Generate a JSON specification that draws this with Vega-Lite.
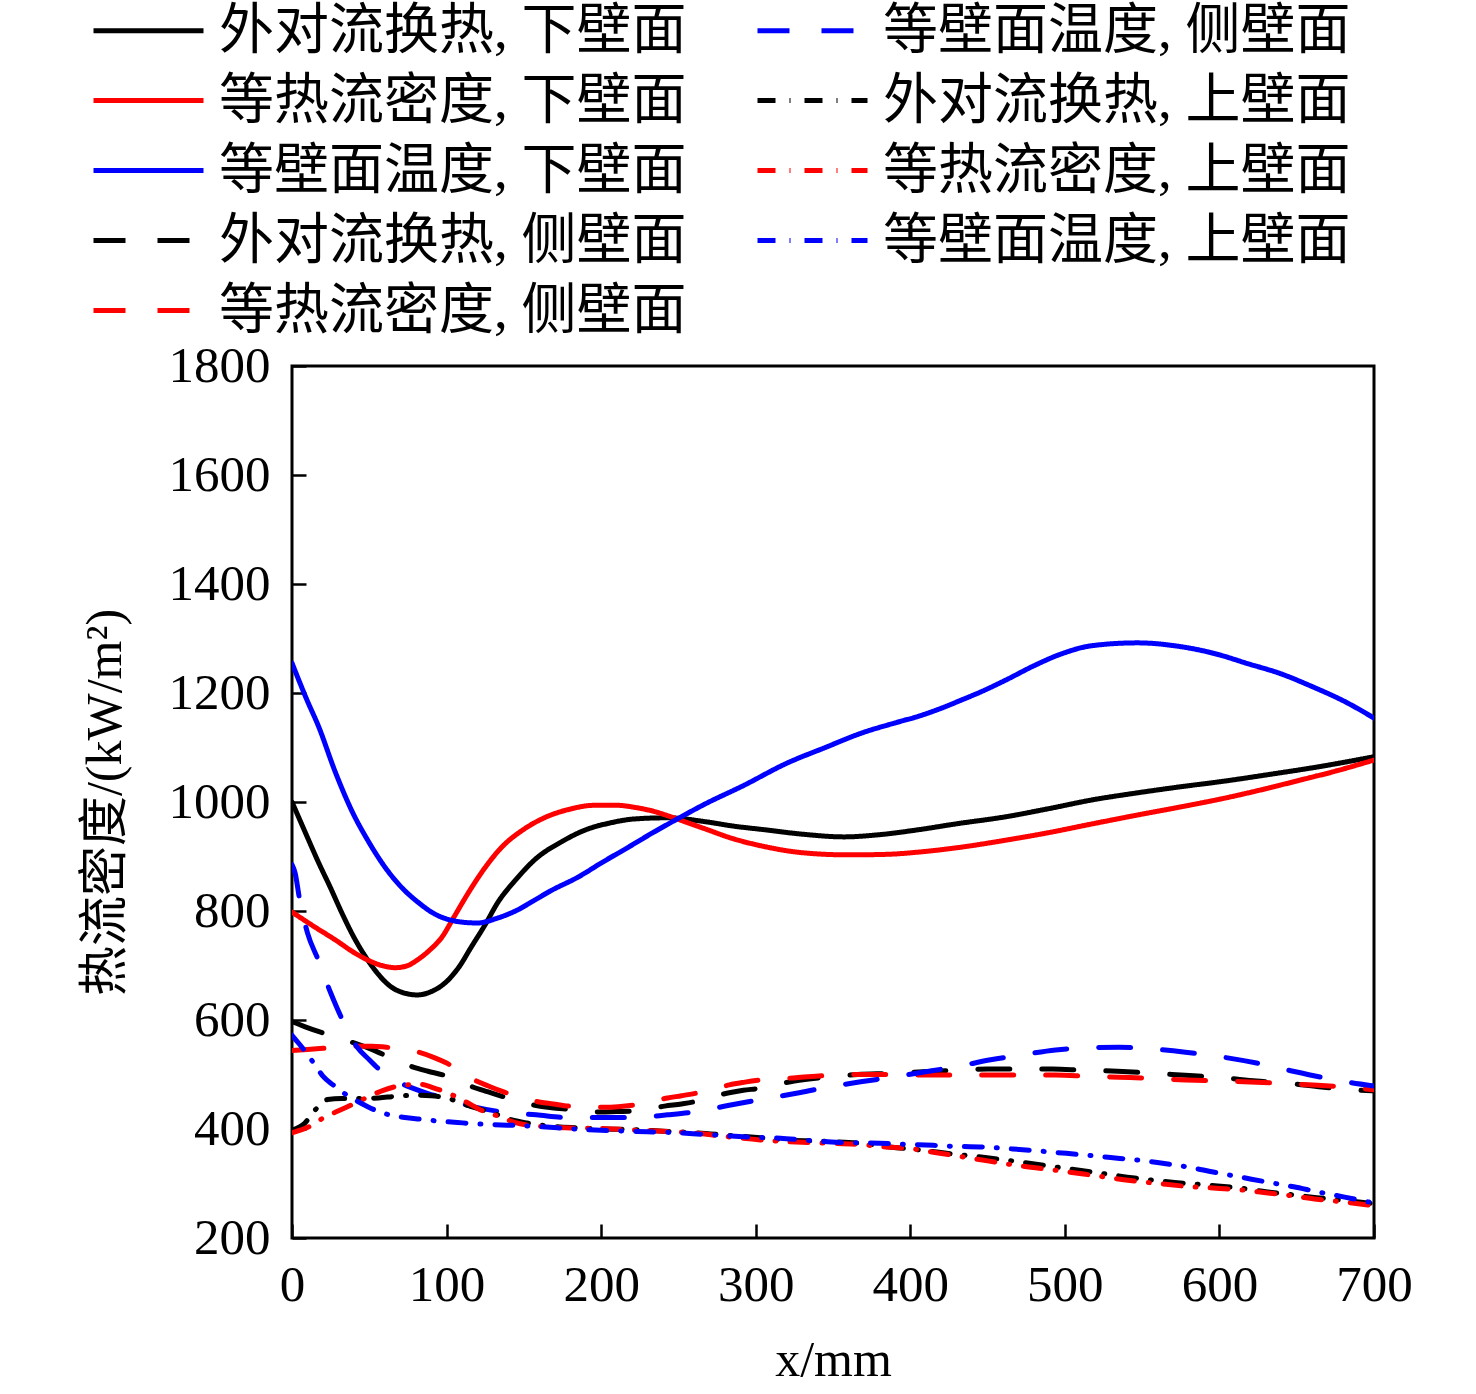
{
  "$schema": "https://vega.github.io/schema/vega-lite/v6.json",
  "width": 1082,
  "height": 872,
  "autosize": {"type": "none"},
  "padding": {"left": 292, "top": 366, "right": 102, "bottom": 156},
  "background": "white",
  "config": {
    "view": {"stroke": "black", "strokeWidth": 3},
    "font": "Liberation Serif, Noto Sans CJK SC",
    "axis": {
      "labelFont": "Liberation Serif, Noto Sans CJK SC",
      "titleFont": "Liberation Serif, Noto Sans CJK SC",
      "labelColor": "black",
      "titleColor": "black",
      "labelFontSize": 51,
      "titleFontSize": 50,
      "titleFontWeight": "normal",
      "domain": false,
      "grid": false,
      "tickColor": "black",
      "tickWidth": 2.5,
      "tickSize": -14,
      "labelPadding": 36,
      "format": "d"
    },
    "legend": {
      "labelFont": "Liberation Serif, Noto Sans CJK SC",
      "labelFontSize": 55,
      "labelColor": "black",
      "labelLimit": 800
    }
  },
  "data": {
    "values": [
      {"s":"外对流换热, 下壁面","x":0,"y":1000},{"s":"外对流换热, 下壁面","x":10,"y":935},{"s":"外对流换热, 下壁面","x":17,"y":890},{"s":"外对流换热, 下壁面","x":25,"y":842},{"s":"外对流换热, 下壁面","x":32,"y":798},{"s":"外对流换热, 下壁面","x":40,"y":752},{"s":"外对流换热, 下壁面","x":49,"y":710},{"s":"外对流换热, 下壁面","x":57,"y":680},{"s":"外对流换热, 下壁面","x":64,"y":661},{"s":"外对流换热, 下壁面","x":72,"y":650},{"s":"外对流换热, 下壁面","x":81,"y":646},{"s":"外对流换热, 下壁面","x":90,"y":652},{"s":"外对流换热, 下壁面","x":99,"y":668},{"s":"外对流换热, 下壁面","x":108,"y":697},{"s":"外对流换热, 下壁面","x":116,"y":734},{"s":"外对流换热, 下壁面","x":125,"y":775},{"s":"外对流换热, 下壁面","x":133,"y":815},{"s":"外对流换热, 下壁面","x":145,"y":858},{"s":"外对流换热, 下壁面","x":157,"y":894},{"s":"外对流换热, 下壁面","x":175,"y":928},{"s":"外对流换热, 下壁面","x":190,"y":949},{"s":"外对流换热, 下壁面","x":205,"y":961},{"s":"外对流换热, 下壁面","x":222,"y":969},{"s":"外对流换热, 下壁面","x":243,"y":971},{"s":"外对流换热, 下壁面","x":267,"y":964},{"s":"外对流换热, 下壁面","x":285,"y":956},{"s":"外对流换热, 下壁面","x":306,"y":949},{"s":"外对流换热, 下壁面","x":330,"y":941},{"s":"外对流换热, 下壁面","x":357,"y":936},{"s":"外对流换热, 下壁面","x":380,"y":940},{"s":"外对流换热, 下壁面","x":405,"y":949},{"s":"外对流换热, 下壁面","x":430,"y":960},{"s":"外对流换热, 下壁面","x":462,"y":973},{"s":"外对流换热, 下壁面","x":490,"y":988},{"s":"外对流换热, 下壁面","x":518,"y":1004},{"s":"外对流换热, 下壁面","x":545,"y":1016},{"s":"外对流换热, 下壁面","x":575,"y":1028},{"s":"外对流换热, 下壁面","x":605,"y":1039},{"s":"外对流换热, 下壁面","x":631,"y":1050},{"s":"外对流换热, 下壁面","x":665,"y":1065},{"s":"外对流换热, 下壁面","x":700,"y":1083},

      {"s":"等热流密度, 下壁面","x":0,"y":798},{"s":"等热流密度, 下壁面","x":14,"y":772},{"s":"等热流密度, 下壁面","x":28,"y":747},{"s":"等热流密度, 下壁面","x":40,"y":724},{"s":"等热流密度, 下壁面","x":49,"y":710},{"s":"等热流密度, 下壁面","x":58,"y":700},{"s":"等热流密度, 下壁面","x":67,"y":696},{"s":"等热流密度, 下壁面","x":75,"y":700},{"s":"等热流密度, 下壁面","x":81,"y":710},{"s":"等热流密度, 下壁面","x":89,"y":728},{"s":"等热流密度, 下壁面","x":97,"y":752},{"s":"等热流密度, 下壁面","x":105,"y":790},{"s":"等热流密度, 下壁面","x":114,"y":833},{"s":"等热流密度, 下壁面","x":125,"y":880},{"s":"等热流密度, 下壁面","x":136,"y":918},{"s":"等热流密度, 下壁面","x":150,"y":950},{"s":"等热流密度, 下壁面","x":164,"y":972},{"s":"等热流密度, 下壁面","x":180,"y":987},{"s":"等热流密度, 下壁面","x":196,"y":994},{"s":"等热流密度, 下壁面","x":210,"y":994},{"s":"等热流密度, 下壁面","x":222,"y":990},{"s":"等热流密度, 下壁面","x":235,"y":982},{"s":"等热流密度, 下壁面","x":246,"y":972},{"s":"等热流密度, 下壁面","x":257,"y":961},{"s":"等热流密度, 下壁面","x":267,"y":951},{"s":"等热流密度, 下壁面","x":285,"y":933},{"s":"等热流密度, 下壁面","x":306,"y":918},{"s":"等热流密度, 下壁面","x":330,"y":907},{"s":"等热流密度, 下壁面","x":360,"y":903},{"s":"等热流密度, 下壁面","x":385,"y":904},{"s":"等热流密度, 下壁面","x":405,"y":908},{"s":"等热流密度, 下壁面","x":430,"y":916},{"s":"等热流密度, 下壁面","x":462,"y":930},{"s":"等热流密度, 下壁面","x":490,"y":944},{"s":"等热流密度, 下壁面","x":518,"y":960},{"s":"等热流密度, 下壁面","x":545,"y":975},{"s":"等热流密度, 下壁面","x":575,"y":991},{"s":"等热流密度, 下壁面","x":605,"y":1008},{"s":"等热流密度, 下壁面","x":631,"y":1025},{"s":"等热流密度, 下壁面","x":652,"y":1040},{"s":"等热流密度, 下壁面","x":673,"y":1055},{"s":"等热流密度, 下壁面","x":700,"y":1077},

      {"s":"等壁面温度, 下壁面","x":0,"y":1255},{"s":"等壁面温度, 下壁面","x":10,"y":1185},{"s":"等壁面温度, 下壁面","x":17,"y":1140},{"s":"等壁面温度, 下壁面","x":28,"y":1055},{"s":"等壁面温度, 下壁面","x":39,"y":982},{"s":"等壁面温度, 下壁面","x":50,"y":925},{"s":"等壁面温度, 下壁面","x":60,"y":881},{"s":"等壁面温度, 下壁面","x":70,"y":846},{"s":"等壁面温度, 下壁面","x":82,"y":815},{"s":"等壁面温度, 下壁面","x":92,"y":795},{"s":"等壁面温度, 下壁面","x":103,"y":783},{"s":"等壁面温度, 下壁面","x":112,"y":779},{"s":"等壁面温度, 下壁面","x":120,"y":778},{"s":"等壁面温度, 下壁面","x":133,"y":787},{"s":"等壁面温度, 下壁面","x":146,"y":802},{"s":"等壁面温度, 下壁面","x":157,"y":820},{"s":"等壁面温度, 下壁面","x":168,"y":838},{"s":"等壁面温度, 下壁面","x":185,"y":862},{"s":"等壁面温度, 下壁面","x":200,"y":888},{"s":"等壁面温度, 下壁面","x":217,"y":916},{"s":"等壁面温度, 下壁面","x":233,"y":943},{"s":"等壁面温度, 下壁面","x":250,"y":970},{"s":"等壁面温度, 下壁面","x":267,"y":996},{"s":"等壁面温度, 下壁面","x":292,"y":1030},{"s":"等壁面温度, 下壁面","x":320,"y":1071},{"s":"等壁面温度, 下壁面","x":345,"y":1100},{"s":"等壁面温度, 下壁面","x":369,"y":1127},{"s":"等壁面温度, 下壁面","x":390,"y":1145},{"s":"等壁面温度, 下壁面","x":405,"y":1157},{"s":"等壁面温度, 下壁面","x":420,"y":1172},{"s":"等壁面温度, 下壁面","x":433,"y":1187},{"s":"等壁面温度, 下壁面","x":448,"y":1205},{"s":"等壁面温度, 下壁面","x":462,"y":1224},{"s":"等壁面温度, 下壁面","x":480,"y":1250},{"s":"等壁面温度, 下壁面","x":498,"y":1272},{"s":"等壁面温度, 下壁面","x":518,"y":1287},{"s":"等壁面温度, 下壁面","x":547,"y":1292},{"s":"等壁面温度, 下壁面","x":575,"y":1285},{"s":"等壁面温度, 下壁面","x":600,"y":1270},{"s":"等壁面温度, 下壁面","x":617,"y":1255},{"s":"等壁面温度, 下壁面","x":640,"y":1235},{"s":"等壁面温度, 下壁面","x":659,"y":1213},{"s":"等壁面温度, 下壁面","x":682,"y":1183},{"s":"等壁面温度, 下壁面","x":700,"y":1154},

      {"s":"外对流换热, 侧壁面","x":0,"y":597},{"s":"外对流换热, 侧壁面","x":9,"y":587},{"s":"外对流换热, 侧壁面","x":18,"y":578},{"s":"外对流换热, 侧壁面","x":30,"y":567},{"s":"外对流换热, 侧壁面","x":40,"y":558},{"s":"外对流换热, 侧壁面","x":50,"y":548},{"s":"外对流换热, 侧壁面","x":58,"y":538},{"s":"外对流换热, 侧壁面","x":68,"y":526},{"s":"外对流换热, 侧壁面","x":78,"y":514},{"s":"外对流换热, 侧壁面","x":88,"y":506},{"s":"外对流换热, 侧壁面","x":98,"y":499},{"s":"外对流换热, 侧壁面","x":108,"y":488},{"s":"外对流换热, 侧壁面","x":117,"y":477},{"s":"外对流换热, 侧壁面","x":127,"y":468},{"s":"外对流换热, 侧壁面","x":137,"y":459},{"s":"外对流换热, 侧壁面","x":148,"y":450},{"s":"外对流换热, 侧壁面","x":158,"y":443},{"s":"外对流换热, 侧壁面","x":168,"y":439},{"s":"外对流换热, 侧壁面","x":179,"y":436},{"s":"外对流换热, 侧壁面","x":190,"y":433},{"s":"外对流换热, 侧壁面","x":200,"y":431},{"s":"外对流换热, 侧壁面","x":210,"y":432},{"s":"外对流换热, 侧壁面","x":221,"y":433},{"s":"外对流换热, 侧壁面","x":231,"y":437},{"s":"外对流换热, 侧壁面","x":241,"y":442},{"s":"外对流换热, 侧壁面","x":252,"y":446},{"s":"外对流换热, 侧壁面","x":262,"y":451},{"s":"外对流换热, 侧壁面","x":272,"y":459},{"s":"外对流换热, 侧壁面","x":282,"y":466},{"s":"外对流换热, 侧壁面","x":292,"y":471},{"s":"外对流换热, 侧壁面","x":303,"y":475},{"s":"外对流换热, 侧壁面","x":314,"y":482},{"s":"外对流换热, 侧壁面","x":325,"y":488},{"s":"外对流换热, 侧壁面","x":345,"y":495},{"s":"外对流换热, 侧壁面","x":366,"y":500},{"s":"外对流换热, 侧壁面","x":387,"y":502},{"s":"外对流换热, 侧壁面","x":408,"y":505},{"s":"外对流换热, 侧壁面","x":431,"y":508},{"s":"外对流换热, 侧壁面","x":450,"y":510},{"s":"外对流换热, 侧壁面","x":470,"y":510},{"s":"外对流换热, 侧壁面","x":492,"y":510},{"s":"外对流换热, 侧壁面","x":511,"y":508},{"s":"外对流换热, 侧壁面","x":534,"y":506},{"s":"外对流换热, 侧壁面","x":553,"y":503},{"s":"外对流换热, 侧壁面","x":575,"y":499},{"s":"外对流换热, 侧壁面","x":602,"y":494},{"s":"外对流换热, 侧壁面","x":624,"y":488},{"s":"外对流换热, 侧壁面","x":644,"y":484},{"s":"外对流换热, 侧壁面","x":666,"y":477},{"s":"外对流换热, 侧壁面","x":685,"y":472},{"s":"外对流换热, 侧壁面","x":700,"y":470},

      {"s":"等热流密度, 侧壁面","x":0,"y":544},{"s":"等热流密度, 侧壁面","x":10,"y":546},{"s":"等热流密度, 侧壁面","x":20,"y":548},{"s":"等热流密度, 侧壁面","x":30,"y":550},{"s":"等热流密度, 侧壁面","x":42,"y":552},{"s":"等热流密度, 侧壁面","x":52,"y":552},{"s":"等热流密度, 侧壁面","x":61,"y":550},{"s":"等热流密度, 侧壁面","x":72,"y":547},{"s":"等热流密度, 侧壁面","x":83,"y":540},{"s":"等热流密度, 侧壁面","x":92,"y":531},{"s":"等热流密度, 侧壁面","x":100,"y":521},{"s":"等热流密度, 侧壁面","x":109,"y":506},{"s":"等热流密度, 侧壁面","x":118,"y":490},{"s":"等热流密度, 侧壁面","x":127,"y":479},{"s":"等热流密度, 侧壁面","x":137,"y":468},{"s":"等热流密度, 侧壁面","x":148,"y":458},{"s":"等热流密度, 侧壁面","x":159,"y":450},{"s":"等热流密度, 侧壁面","x":169,"y":446},{"s":"等热流密度, 侧壁面","x":179,"y":442},{"s":"等热流密度, 侧壁面","x":190,"y":441},{"s":"等热流密度, 侧壁面","x":201,"y":440},{"s":"等热流密度, 侧壁面","x":211,"y":441},{"s":"等热流密度, 侧壁面","x":221,"y":444},{"s":"等热流密度, 侧壁面","x":232,"y":450},{"s":"等热流密度, 侧壁面","x":243,"y":457},{"s":"等热流密度, 侧壁面","x":252,"y":461},{"s":"等热流密度, 侧壁面","x":262,"y":466},{"s":"等热流密度, 侧壁面","x":273,"y":473},{"s":"等热流密度, 侧壁面","x":283,"y":481},{"s":"等热流密度, 侧壁面","x":293,"y":486},{"s":"等热流密度, 侧壁面","x":303,"y":490},{"s":"等热流密度, 侧壁面","x":326,"y":494},{"s":"等热流密度, 侧壁面","x":345,"y":498},{"s":"等热流密度, 侧壁面","x":366,"y":500},{"s":"等热流密度, 侧壁面","x":387,"y":500},{"s":"等热流密度, 侧壁面","x":410,"y":499},{"s":"等热流密度, 侧壁面","x":430,"y":499},{"s":"等热流密度, 侧壁面","x":452,"y":499},{"s":"等热流密度, 侧壁面","x":472,"y":499},{"s":"等热流密度, 侧壁面","x":494,"y":499},{"s":"等热流密度, 侧壁面","x":514,"y":497},{"s":"等热流密度, 侧壁面","x":535,"y":495},{"s":"等热流密度, 侧壁面","x":556,"y":493},{"s":"等热流密度, 侧壁面","x":578,"y":490},{"s":"等热流密度, 侧壁面","x":602,"y":488},{"s":"等热流密度, 侧壁面","x":624,"y":486},{"s":"等热流密度, 侧壁面","x":644,"y":483},{"s":"等热流密度, 侧壁面","x":666,"y":480},{"s":"等热流密度, 侧壁面","x":685,"y":476},{"s":"等热流密度, 侧壁面","x":700,"y":472},

      {"s":"等壁面温度, 侧壁面","x":0,"y":885},{"s":"等壁面温度, 侧壁面","x":2,"y":870},{"s":"等壁面温度, 侧壁面","x":5,"y":820},{"s":"等壁面温度, 侧壁面","x":10,"y":760},{"s":"等壁面温度, 侧壁面","x":17,"y":710},{"s":"等壁面温度, 侧壁面","x":25,"y":650},{"s":"等壁面温度, 侧壁面","x":32,"y":604},{"s":"等壁面温度, 侧壁面","x":42,"y":551},{"s":"等壁面温度, 侧壁面","x":50,"y":527},{"s":"等壁面温度, 侧壁面","x":57,"y":508},{"s":"等壁面温度, 侧壁面","x":67,"y":489},{"s":"等壁面温度, 侧壁面","x":78,"y":475},{"s":"等壁面温度, 侧壁面","x":88,"y":465},{"s":"等壁面温度, 侧壁面","x":98,"y":457},{"s":"等壁面温度, 侧壁面","x":117,"y":441},{"s":"等壁面温度, 侧壁面","x":137,"y":431},{"s":"等壁面温度, 侧壁面","x":158,"y":426},{"s":"等壁面温度, 侧壁面","x":179,"y":421},{"s":"等壁面温度, 侧壁面","x":200,"y":421},{"s":"等壁面温度, 侧壁面","x":221,"y":421},{"s":"等壁面温度, 侧壁面","x":243,"y":426},{"s":"等壁面温度, 侧壁面","x":262,"y":432},{"s":"等壁面温度, 侧壁面","x":282,"y":443},{"s":"等壁面温度, 侧壁面","x":303,"y":454},{"s":"等壁面温度, 侧壁面","x":329,"y":467},{"s":"等壁面温度, 侧壁面","x":347,"y":477},{"s":"等壁面温度, 侧壁面","x":369,"y":487},{"s":"等壁面温度, 侧壁面","x":388,"y":495},{"s":"等壁面温度, 侧壁面","x":410,"y":505},{"s":"等壁面温度, 侧壁面","x":431,"y":515},{"s":"等壁面温度, 侧壁面","x":452,"y":527},{"s":"等壁面温度, 侧壁面","x":472,"y":536},{"s":"等壁面温度, 侧壁面","x":494,"y":545},{"s":"等壁面温度, 侧壁面","x":514,"y":549},{"s":"等壁面温度, 侧壁面","x":535,"y":550},{"s":"等壁面温度, 侧壁面","x":556,"y":547},{"s":"等壁面温度, 侧壁面","x":578,"y":541},{"s":"等壁面温度, 侧壁面","x":602,"y":532},{"s":"等壁面温度, 侧壁面","x":624,"y":521},{"s":"等壁面温度, 侧壁面","x":643,"y":509},{"s":"等壁面温度, 侧壁面","x":666,"y":495},{"s":"等壁面温度, 侧壁面","x":685,"y":485},{"s":"等壁面温度, 侧壁面","x":700,"y":479},

      {"s":"外对流换热, 上壁面","x":0,"y":398},{"s":"外对流换热, 上壁面","x":8,"y":410},{"s":"外对流换热, 上壁面","x":15,"y":435},{"s":"外对流换热, 上壁面","x":23,"y":454},{"s":"外对流换热, 上壁面","x":32,"y":456},{"s":"外对流换热, 上壁面","x":47,"y":456},{"s":"外对流换热, 上壁面","x":56,"y":457},{"s":"外对流换热, 上壁面","x":67,"y":460},{"s":"外对流换热, 上壁面","x":81,"y":462},{"s":"外对流换热, 上壁面","x":90,"y":461},{"s":"外对流换热, 上壁面","x":100,"y":457},{"s":"外对流换热, 上壁面","x":113,"y":444},{"s":"外对流换热, 上壁面","x":130,"y":429},{"s":"外对流换热, 上壁面","x":143,"y":416},{"s":"外对流换热, 上壁面","x":152,"y":411},{"s":"外对流换热, 上壁面","x":168,"y":405},{"s":"外对流换热, 上壁面","x":185,"y":402},{"s":"外对流换热, 上壁面","x":200,"y":400},{"s":"外对流换热, 上壁面","x":221,"y":399},{"s":"外对流换热, 上壁面","x":240,"y":396},{"s":"外对流换热, 上壁面","x":262,"y":393},{"s":"外对流换热, 上壁面","x":284,"y":388},{"s":"外对流换热, 上壁面","x":303,"y":384},{"s":"外对流换热, 上壁面","x":320,"y":380},{"s":"外对流换热, 上壁面","x":347,"y":377},{"s":"外对流换热, 上壁面","x":370,"y":373},{"s":"外对流换热, 上壁面","x":387,"y":367},{"s":"外对流换热, 上壁面","x":408,"y":361},{"s":"外对流换热, 上壁面","x":428,"y":354},{"s":"外对流换热, 上壁面","x":451,"y":347},{"s":"外对流换热, 上壁面","x":472,"y":339},{"s":"外对流换热, 上壁面","x":495,"y":330},{"s":"外对流换热, 上壁面","x":518,"y":321},{"s":"外对流换热, 上壁面","x":545,"y":310},{"s":"外对流换热, 上壁面","x":571,"y":302},{"s":"外对流换热, 上壁面","x":597,"y":296},{"s":"外对流换热, 上壁面","x":615,"y":291},{"s":"外对流换热, 上壁面","x":630,"y":285},{"s":"外对流换热, 上壁面","x":648,"y":279},{"s":"外对流换热, 上壁面","x":663,"y":274},{"s":"外对流换热, 上壁面","x":681,"y":269},{"s":"外对流换热, 上壁面","x":700,"y":263},

      {"s":"等热流密度, 上壁面","x":0,"y":393},{"s":"等热流密度, 上壁面","x":13,"y":407},{"s":"等热流密度, 上壁面","x":20,"y":420},{"s":"等热流密度, 上壁面","x":29,"y":432},{"s":"等热流密度, 上壁面","x":42,"y":449},{"s":"等热流密度, 上壁面","x":50,"y":460},{"s":"等热流密度, 上壁面","x":59,"y":471},{"s":"等热流密度, 上壁面","x":74,"y":481},{"s":"等热流密度, 上壁面","x":83,"y":482},{"s":"等热流密度, 上壁面","x":91,"y":476},{"s":"等热流密度, 上壁面","x":104,"y":462},{"s":"等热流密度, 上壁面","x":113,"y":449},{"s":"等热流密度, 上壁面","x":122,"y":435},{"s":"等热流密度, 上壁面","x":135,"y":422},{"s":"等热流密度, 上壁面","x":144,"y":412},{"s":"等热流密度, 上壁面","x":160,"y":405},{"s":"等热流密度, 上壁面","x":180,"y":402},{"s":"等热流密度, 上壁面","x":200,"y":401},{"s":"等热流密度, 上壁面","x":221,"y":398},{"s":"等热流密度, 上壁面","x":240,"y":396},{"s":"等热流密度, 上壁面","x":262,"y":392},{"s":"等热流密度, 上壁面","x":284,"y":385},{"s":"等热流密度, 上壁面","x":303,"y":380},{"s":"等热流密度, 上壁面","x":326,"y":376},{"s":"等热流密度, 上壁面","x":345,"y":374},{"s":"等热流密度, 上壁面","x":365,"y":372},{"s":"等热流密度, 上壁面","x":384,"y":367},{"s":"等热流密度, 上壁面","x":400,"y":364},{"s":"等热流密度, 上壁面","x":418,"y":356},{"s":"等热流密度, 上壁面","x":438,"y":347},{"s":"等热流密度, 上壁面","x":451,"y":341},{"s":"等热流密度, 上壁面","x":472,"y":332},{"s":"等热流密度, 上壁面","x":495,"y":324},{"s":"等热流密度, 上壁面","x":518,"y":315},{"s":"等热流密度, 上壁面","x":538,"y":307},{"s":"等热流密度, 上壁面","x":560,"y":300},{"s":"等热流密度, 上壁面","x":582,"y":294},{"s":"等热流密度, 上壁面","x":600,"y":291},{"s":"等热流密度, 上壁面","x":615,"y":288},{"s":"等热流密度, 上壁面","x":630,"y":283},{"s":"等热流密度, 上壁面","x":648,"y":277},{"s":"等热流密度, 上壁面","x":663,"y":271},{"s":"等热流密度, 上壁面","x":681,"y":266},{"s":"等热流密度, 上壁面","x":700,"y":259},

      {"s":"等壁面温度, 上壁面","x":0,"y":572},{"s":"等壁面温度, 上壁面","x":5,"y":555},{"s":"等壁面温度, 上壁面","x":10,"y":537},{"s":"等壁面温度, 上壁面","x":15,"y":517},{"s":"等壁面温度, 上壁面","x":20,"y":497},{"s":"等壁面温度, 上壁面","x":27,"y":480},{"s":"等壁面温度, 上壁面","x":33,"y":467},{"s":"等壁面温度, 上壁面","x":41,"y":453},{"s":"等壁面温度, 上壁面","x":49,"y":441},{"s":"等壁面温度, 上壁面","x":56,"y":432},{"s":"等壁面温度, 上壁面","x":63,"y":426},{"s":"等壁面温度, 上壁面","x":73,"y":421},{"s":"等壁面温度, 上壁面","x":83,"y":418},{"s":"等壁面温度, 上壁面","x":97,"y":414},{"s":"等壁面温度, 上壁面","x":107,"y":412},{"s":"等壁面温度, 上壁面","x":116,"y":410},{"s":"等壁面温度, 上壁面","x":130,"y":408},{"s":"等壁面温度, 上壁面","x":150,"y":406},{"s":"等壁面温度, 上壁面","x":162,"y":404},{"s":"等壁面温度, 上壁面","x":183,"y":400},{"s":"等壁面温度, 上壁面","x":196,"y":398},{"s":"等壁面温度, 上壁面","x":217,"y":396},{"s":"等壁面温度, 上壁面","x":230,"y":395},{"s":"等壁面温度, 上壁面","x":250,"y":393},{"s":"等壁面温度, 上壁面","x":262,"y":391},{"s":"等壁面温度, 上壁面","x":284,"y":387},{"s":"等壁面温度, 上壁面","x":296,"y":385},{"s":"等壁面温度, 上壁面","x":316,"y":383},{"s":"等壁面温度, 上壁面","x":330,"y":380},{"s":"等壁面温度, 上壁面","x":349,"y":376},{"s":"等壁面温度, 上壁面","x":363,"y":375},{"s":"等壁面温度, 上壁面","x":380,"y":374},{"s":"等壁面温度, 上壁面","x":396,"y":372},{"s":"等壁面温度, 上壁面","x":415,"y":370},{"s":"等壁面温度, 上壁面","x":430,"y":368},{"s":"等壁面温度, 上壁面","x":448,"y":367},{"s":"等壁面温度, 上壁面","x":463,"y":364},{"s":"等壁面温度, 上壁面","x":482,"y":360},{"s":"等壁面温度, 上壁面","x":494,"y":357},{"s":"等壁面温度, 上壁面","x":514,"y":352},{"s":"等壁面温度, 上壁面","x":528,"y":348},{"s":"等壁面温度, 上壁面","x":547,"y":343},{"s":"等壁面温度, 上壁面","x":561,"y":338},{"s":"等壁面温度, 上壁面","x":580,"y":330},{"s":"等壁面温度, 上壁面","x":596,"y":321},{"s":"等壁面温度, 上壁面","x":615,"y":311},{"s":"等壁面温度, 上壁面","x":630,"y":303},{"s":"等壁面温度, 上壁面","x":648,"y":294},{"s":"等壁面温度, 上壁面","x":663,"y":285},{"s":"等壁面温度, 上壁面","x":681,"y":275},{"s":"等壁面温度, 上壁面","x":700,"y":264}
    ]
  },
  "mark": {"type": "line", "interpolate": "monotone", "strokeWidth": 5, "strokeCap": "round", "clip": true},
  "encoding": {
    "x": {
      "field": "x", "type": "quantitative",
      "scale": {"domain": [0, 700], "nice": false},
      "axis": {"values": [0,100,200,300,400,500,600,700], "title": "x/mm", "titlePadding": 0, "titleY": 122, "titleBaseline": "middle", "labelFlush": false}
    },
    "y": {
      "field": "y", "type": "quantitative",
      "scale": {"domain": [200, 1800], "nice": false, "zero": false},
      "axis": {"values": [200,400,600,800,1000,1200,1400,1600,1800], "title": "热流密度/(kW/m²)", "titleX": -187, "titleY": 436, "titleAlign": "center", "titleBaseline": "middle", "labelFlush": false}
    },
    "color": {
      "field": "s", "type": "nominal",
      "scale": {
        "domain": ["外对流换热, 下壁面","等热流密度, 下壁面","等壁面温度, 下壁面","外对流换热, 侧壁面","等热流密度, 侧壁面","等壁面温度, 侧壁面","外对流换热, 上壁面","等热流密度, 上壁面","等壁面温度, 上壁面"],
        "range": ["#000000","#ff0000","#0000ff","#000000","#ff0000","#0000ff","#000000","#ff0000","#0000ff"]
      },
      "legend": {
        "title": null,
        "orient": "none",
        "legendX": -171,
        "legendY": -363,
        "columns": 2,
        "columnPadding": 60,
        "rowPadding": 14,
        "padding": 0,
        "symbolType": "M-2.5,0H2.5",
        "symbolSize": 1936,
        "symbolStrokeWidth": 5,
        "labelOffset": 43
      }
    },
    "strokeDash": {
      "field": "s", "type": "nominal",
      "scale": {
        "domain": ["外对流换热, 下壁面","等热流密度, 下壁面","等壁面温度, 下壁面","外对流换热, 侧壁面","等热流密度, 侧壁面","等壁面温度, 侧壁面","外对流换热, 上壁面","等热流密度, 上壁面","等壁面温度, 上壁面"],
        "range": [[1,0],[1,0],[1,0],[32,32],[32,32],[32,32],[18,14,1,14],[18,14,1,14],[18,14,1,14]]
      },
      "legend": {
        "title": null,
        "orient": "none",
        "legendX": -171,
        "legendY": -363,
        "columns": 2,
        "columnPadding": 60,
        "rowPadding": 14,
        "padding": 0,
        "symbolType": "M-2.5,0H2.5",
        "symbolSize": 1936,
        "symbolStrokeWidth": 5,
        "labelOffset": 43
      }
    }
  }
}
